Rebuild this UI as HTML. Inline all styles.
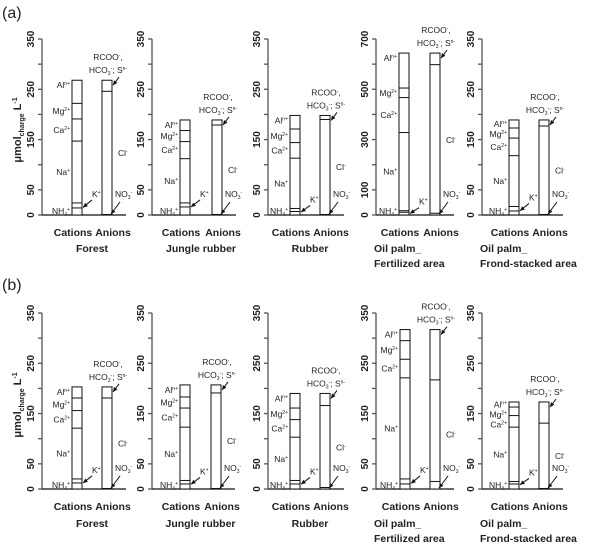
<!DOCTYPE html>
<html><head><meta charset="utf-8"><style>
body{margin:0;background:#fff;}
svg{display:block;font-family:"Liberation Sans",Arial,sans-serif;}
.tk{font-size:10px;font-weight:bold;fill:#222;}
.ion{font-size:8.5px;fill:#222;}
.cat{font-size:10.5px;font-weight:bold;fill:#222;}
</style></head><body>
<svg id="chart" width="600" height="552" viewBox="0 0 600 552" xmlns="http://www.w3.org/2000/svg">
<text x="2" y="18" font-size="16" fill="#222">(a)</text>
<text x="2" y="290" font-size="16" fill="#222">(b)</text>
<g transform="translate(21,130) rotate(-90)"><text text-anchor="middle" font-size="11" font-weight="bold" fill="#222">μmol<tspan font-size="7" dy="3">charge</tspan><tspan dy="-3"> L</tspan><tspan font-size="7" dy="-4">-1</tspan></text></g>
<g transform="translate(21,405) rotate(-90)"><text text-anchor="middle" font-size="11" font-weight="bold" fill="#222">μmol<tspan font-size="7" dy="3">charge</tspan><tspan dy="-3"> L</tspan><tspan font-size="7" dy="-4">-1</tspan></text></g>
</svg>
<script>
// data
const sites = ["Forest","Jungle rubber","Rubber","Oil palm_ Fertilized area","Oil palm_ Frond-stacked area"];
const yMaxA = [350,350,350,700,350];
const yMaxB = [350,350,350,350,350];
// cumulative tops (µmol charge/L), panel (a)
const nh4A = [14,16,7,11,8];
const kA   = [24,24,13,17,17];
const naA  = [147,112,113,328,118];
const caA  = [191,146,144,467,153];
const mgA  = [222,168,171,505,173];
const alA  = [268,189,198,644,189];
const no3A = [1,1,1,7,1];
const clA  = [246,179,190,598,177];
const anA  = [268,189,198,644,189];
// panel (b)
const nh4B = [12,10,10,10,10];
const kB   = [20,17,17,20,15];
const naB  = [121,123,103,221,123];
const caB  = [156,161,138,258,146];
const mgB  = [181,183,161,295,163];
const alB  = [203,207,190,317,173];
const no3B = [1,1,3,15,1];
const clB  = [181,191,166,217,131];
const anB  = [203,207,190,317,173];

const NS="http://www.w3.org/2000/svg";
const svg=document.getElementById('chart');
function mk(tag,attrs,parent){const e=document.createElementNS(NS,tag);for(const k in attrs)e.setAttribute(k,attrs[k]);(parent||svg).appendChild(e);return e;}
function txt(x,y,cls,html,parent,anchor){const t=mk('text',{x:x,y:y,class:cls},parent);if(anchor)t.setAttribute('text-anchor',anchor);t.innerHTML=html;return t;}
function arrow(x1,y1,x2,y2,g){mk('line',{x1:x1,y1:y1,x2:x2,y2:y2,stroke:'#111','stroke-width':1},g);
 const a=Math.atan2(y2-y1,x2-x1),L=5;mk('polygon',{points:`${x2},${y2} ${x2-L*Math.cos(a-0.45)},${y2-L*Math.sin(a-0.45)} ${x2-L*Math.cos(a+0.45)},${y2-L*Math.sin(a+0.45)}`,fill:'#111'},g);}

const rows=[
 {key:'a',y0:215,y1:39,axes:[42,152,268,376,482],cx:[72,180,290,399,509],ax:[102,212,320,430,539],ymax:yMaxA,
  nh4:nh4A,k:kA,na:naA,ca:caA,mg:mgA,al:alA,no3:no3A,cl:clA,an:anA,catY:236,siteY:252},
 {key:'b',y0:489,y1:313,axes:[42,152,268,376,482],cx:[72,180,290,400,509],ax:[102,211,320,430,539],ymax:yMaxB,
  nh4:nh4B,k:kB,na:naB,ca:caB,mg:mgB,al:alB,no3:no3B,cl:clB,an:anB,catY:510,siteY:527}
];

rows.forEach(r=>{
 sites.forEach((s,i)=>{
  const g=mk('g',{});
  
  
  const A=r.axes[i],ym=r.ymax[i];
  const y=v=>r.y0-(v/ym)*(r.y0-r.y1);
  const ax=mk('line',{x1:A,y1:r.y0,x2:A,y2:r.y1,stroke:'#555','stroke-width':1.3},g);
  
  
  const step=ym/7;
  for(let v=0;v<=ym+0.1;v+=step){
   mk('line',{x1:A-4,y1:y(v),x2:A,y2:y(v),stroke:'#555','stroke-width':1.3},g);
   const lab=(v===0||Math.round(v/step)%2===1);
   if(lab){const t=mk('text',{class:'tk','text-anchor':'middle',transform:`translate(${A-8},${y(v)}) rotate(-90)`},g);t.textContent=Math.round(v);
    
    }
  }
  const bx=r.ax[i]+24;
  const base=mk('line',{x1:A,y1:r.y0,x2:bx,y2:r.y0,stroke:'#111','stroke-width':1.3},g);
  
  
  const cx=r.cx[i],w=10,an=r.ax[i];
  const cb=mk('rect',{x:cx,y:y(r.al[i]),width:w,height:y(0)-y(r.al[i]),fill:'#fff',stroke:'#111','stroke-width':1},g);
  
  
  [r.nh4[i],r.k[i],r.na[i],r.ca[i],r.mg[i]].forEach(v=>{mk('line',{x1:cx,x2:cx+w,y1:y(v),y2:y(v),stroke:'#111','stroke-width':1},g);});
  const ab=mk('rect',{x:an,y:y(r.an[i]),width:w,height:y(0)-y(r.an[i]),fill:'#fff',stroke:'#111','stroke-width':1},g);
  
  
  [r.no3[i],r.cl[i]].forEach(v=>{mk('line',{x1:an,x2:an+w,y1:y(v),y2:y(v),stroke:'#111','stroke-width':1},g);});
  // ion labels
  const lx=cx-2;
  const mid=(a,b)=>y((a+b)/2)+3;
  const alY=Math.min(mid(r.mg[i],r.al[i]),y(r.al[i])+8);
  txt(lx,alY,'ion','Al<tspan font-size="5" dy="-3">n+</tspan>',g,'end');
  txt(lx,Math.max(mid(r.ca[i],r.mg[i]),alY+10),'ion','Mg<tspan font-size="5" dy="-3">2+</tspan>',g,'end');
  txt(lx,Math.max(mid(r.na[i],r.ca[i]),alY+20),'ion','Ca<tspan font-size="5" dy="-3">2+</tspan>',g,'end');
  txt(lx,mid(r.k[i],r.na[i]),'ion','Na<tspan font-size="5" dy="-3">+</tspan>',g,'end');
  txt(lx,r.y0-1,'ion','NH<tspan font-size="5" dy="2">4</tspan><tspan font-size="5" dy="-5">+</tspan>',g,'end');
  txt(cx+w+10,y(r.k[i])-6,'ion','K<tspan font-size="5" dy="-3">+</tspan>',g);
  arrow(cx+w+10,y(r.k[i])-3,cx+w+1,y(r.k[i]/2+r.nh4[i]/2)+2,g);
  txt(an+6,y(r.an[i])-20,'ion','RCOO<tspan font-size="5" dy="-3">-</tspan><tspan dy="3">,</tspan>',g,'middle');
  txt(an+6,y(r.an[i])-7,'ion','HCO<tspan font-size="5" dy="2">3</tspan><tspan font-size="5" dy="-5">-</tspan><tspan dy="3">; S</tspan><tspan font-size="5" dy="-3">n-</tspan>',g,'middle');
  arrow(an+17,y(r.an[i])-3,an+w+1,y(r.an[i])+5,g);
  txt(an+w+6,y(r.cl[i]/2)+3,'ion','Cl<tspan font-size="5" dy="-3">-</tspan>',g);
  txt(an+w+3,r.y0-18,'ion','NO<tspan font-size="5" dy="2">3</tspan><tspan font-size="5" dy="-5">-</tspan>',g);
  arrow(an+w+8,r.y0-13,an+w-1,r.y0-1,g);
  // category labels
  txt(cx+1,r.catY,'cat','Cations',g,'middle');
  txt(an+11,r.catY,'cat','Anions',g,'middle');
  if(s.startsWith('Oil')){txt(A-2,r.siteY,'cat','Oil palm_',g);txt(A-2,r.siteY+15,'cat',s.replace('Oil palm_ ',''),g);}
  else txt((cx+an+w)/2,r.siteY,'cat',s,g,'middle');
 });
});
</script>
</body></html>
